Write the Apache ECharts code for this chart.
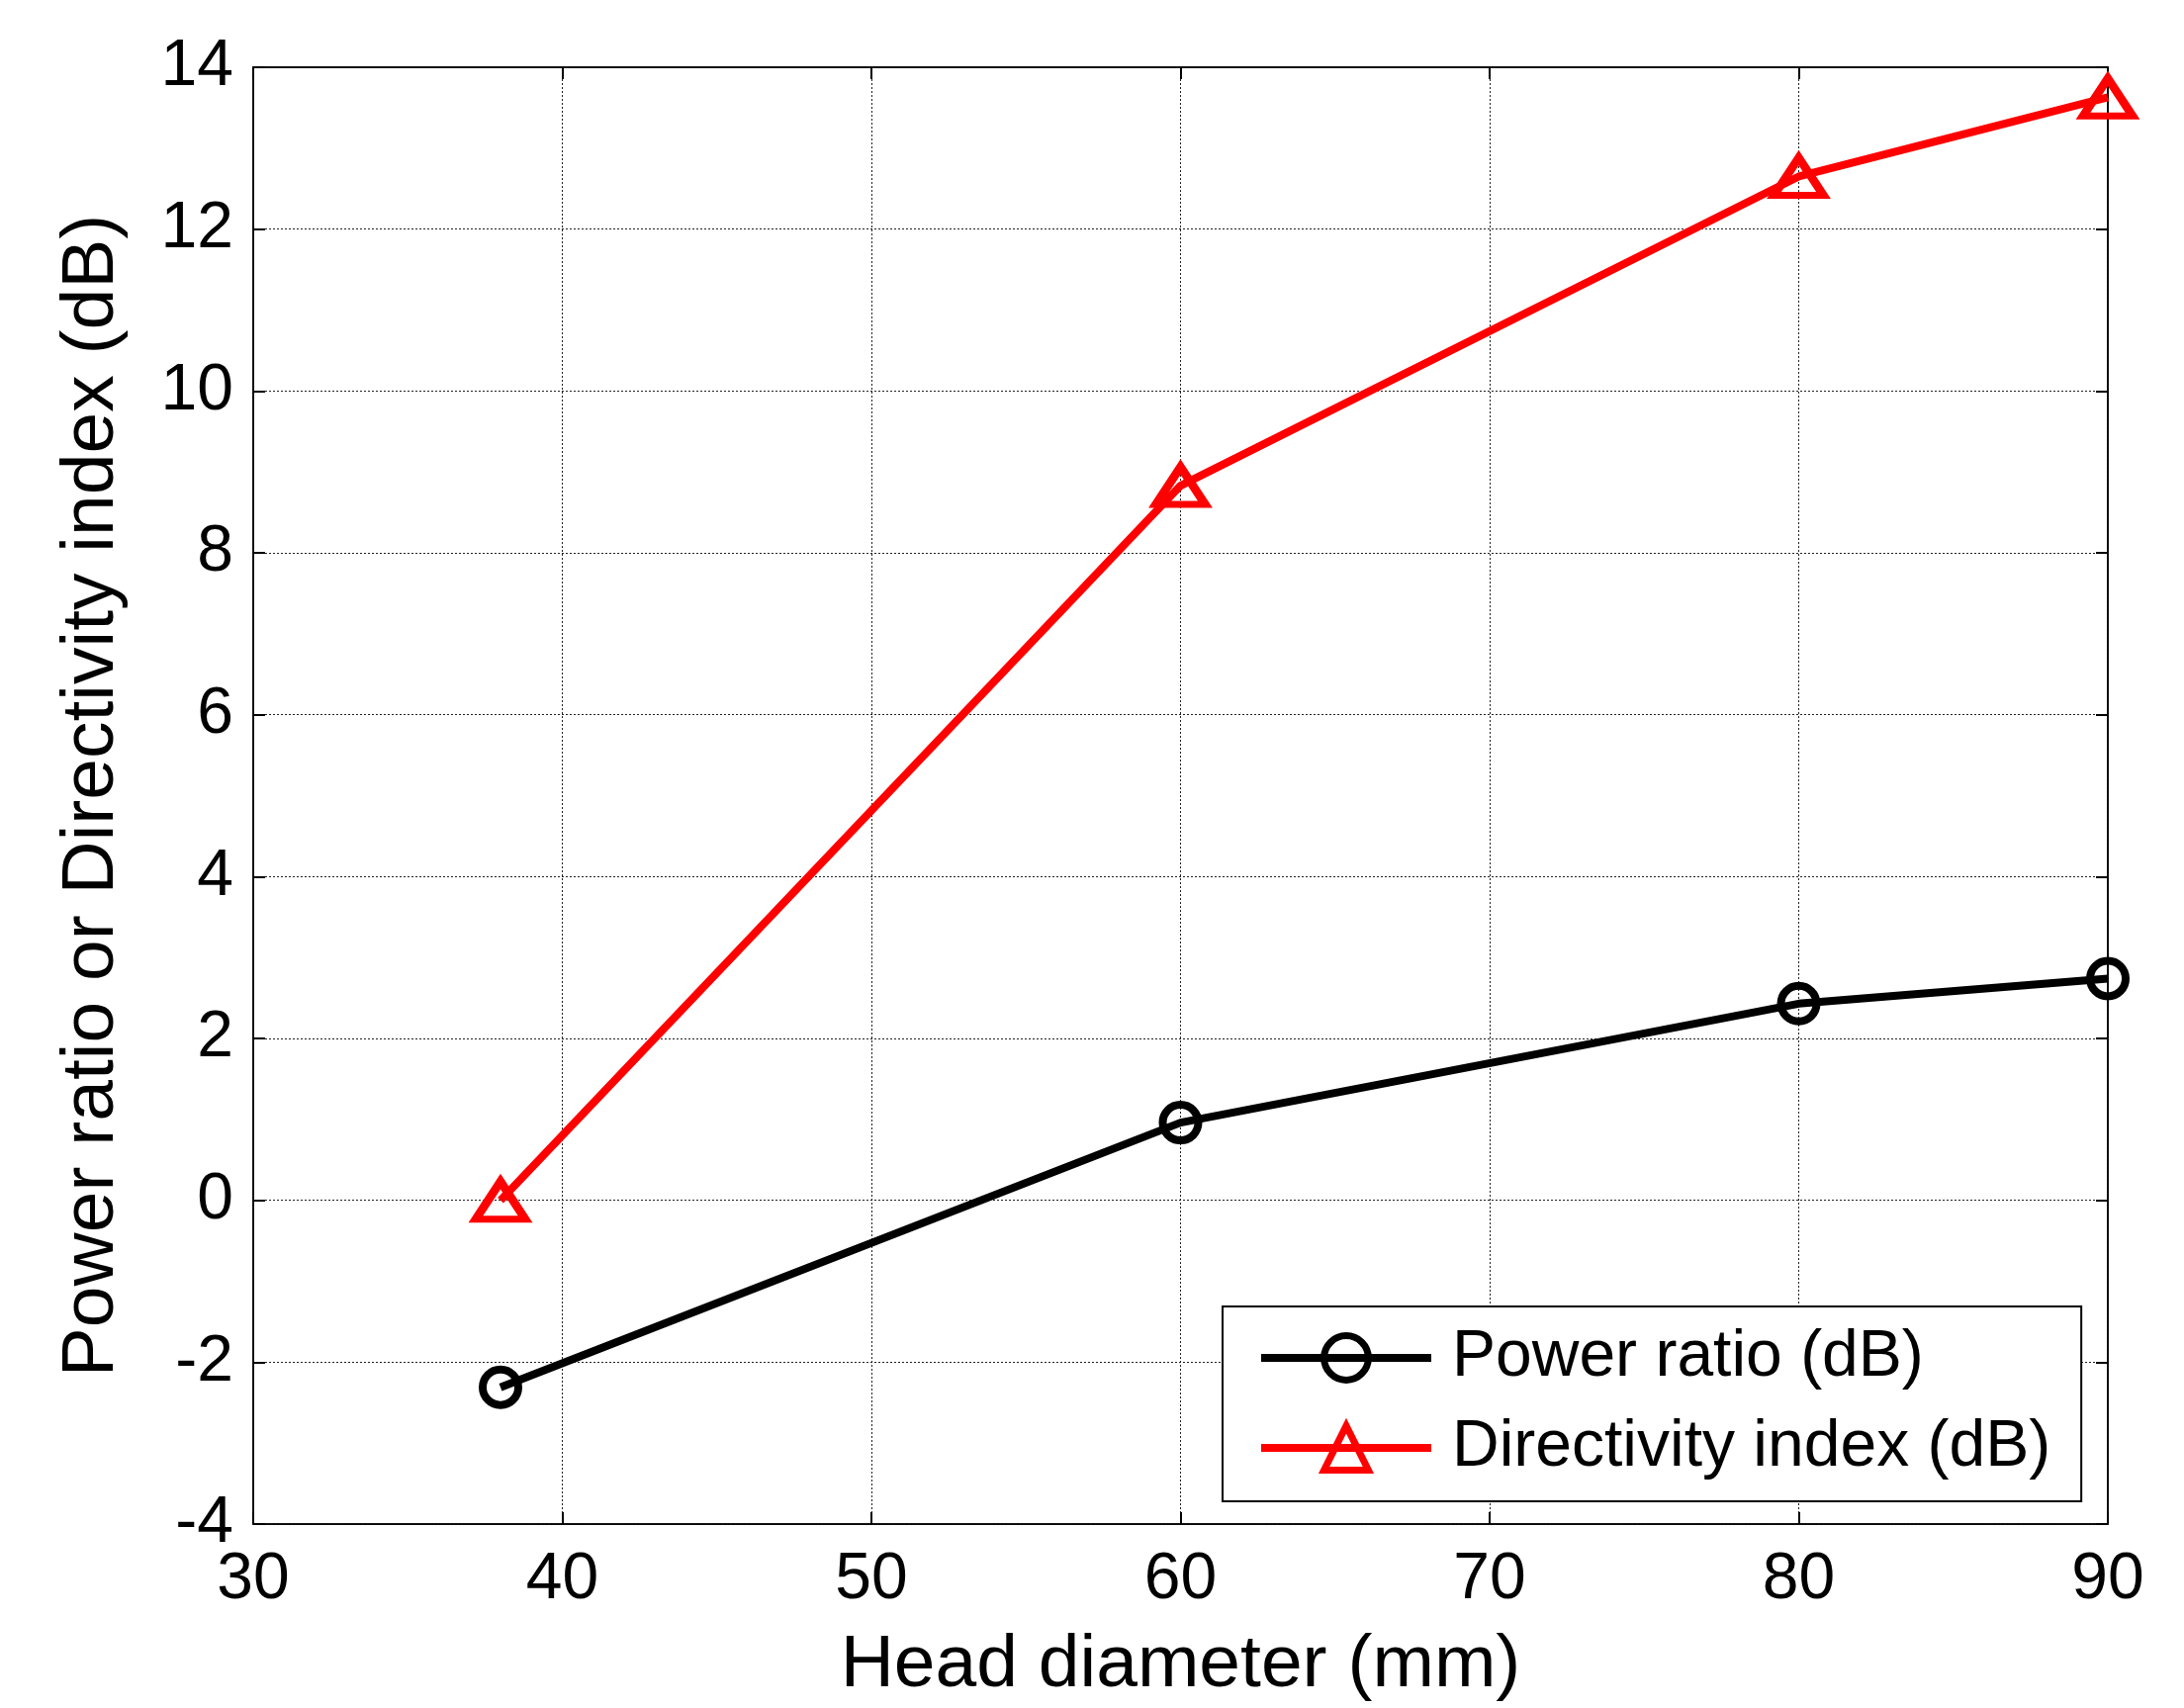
<!DOCTYPE html>
<html>
<head>
<meta charset="utf-8">
<script src="https://cdn.jsdelivr.net/npm/echarts@6/dist/echarts.min.js"></script>
<style>
html,body{margin:0;padding:0;background:#fff;}
#chart{width:2208px;height:1727px;}
</style>
</head>
<body>
<div id="chart"></div>
<script>
const headDiameter = [38, 60, 80, 90];
const powerRatio = [-2.31, 0.96, 2.43, 2.74];
const directivityIndex = [0.0, 8.83, 12.65, 13.63];
const seriesNames = ['Power ratio (dB)', 'Directivity index (dB)'];
const xTitle = 'Head diameter (mm)';
const yTitle = 'Power ratio or Directivity index (dB)';

const FONT = '"Liberation Sans", Arial, sans-serif';
const chart = echarts.init(document.getElementById('chart'));

function pairs(xs, ys) { return xs.map((x, i) => [x, ys[i]]); }

const tickCommon = { show: true, inside: true, length: 12, lineStyle: { color: '#000', width: 2 } };
const axisLineCommon = { show: true, onZero: false, lineStyle: { color: '#000', width: 1.5 } };

chart.setOption({
  animation: false,
  backgroundColor: '#fff',
  grid: { left: 256, top: 68, right: 77, bottom: 181, show: true, borderColor: '#000', borderWidth: 1.5, backgroundColor: 'transparent' },
  xAxis: [{
    type: 'value', min: 30, max: 90, interval: 10,
    name: xTitle, nameLocation: 'middle', nameGap: 106,
    nameTextStyle: { fontFamily: FONT, fontSize: 75, color: '#000' },
    axisLine: axisLineCommon,
    axisTick: tickCommon,
    axisLabel: { fontFamily: FONT, fontSize: 66, color: '#000', margin: 24 },
    splitLine: { show: true, lineStyle: { color: '#222', width: 1, type: [2, 2] } }
  }, {
    type: 'value', min: 30, max: 90, interval: 10, position: 'top',
    axisLine: axisLineCommon,
    axisTick: tickCommon, axisLabel: { show: false }, splitLine: { show: false }
  }],
  yAxis: [{
    type: 'value', min: -4, max: 14, interval: 2,
    name: yTitle, nameLocation: 'middle', nameGap: 125,
    nameTextStyle: { fontFamily: FONT, fontSize: 75, color: '#000' },
    axisLine: axisLineCommon,
    axisTick: tickCommon,
    axisLabel: { fontFamily: FONT, fontSize: 66, color: '#000', margin: 20 },
    splitLine: { show: true, lineStyle: { color: '#222', width: 1, type: [2, 2] } }
  }, {
    type: 'value', min: -4, max: 14, interval: 2, position: 'right',
    axisLine: axisLineCommon,
    axisTick: tickCommon, axisLabel: { show: false }, splitLine: { show: false }
  }],
  legend: {
    orient: 'vertical', left: 1236, top: 1321,
    padding: [19, 31, 21, 35],
    backgroundColor: '#fff', borderColor: '#000', borderWidth: 2,
    itemWidth: 172, itemHeight: 56, itemGap: 25,
    textStyle: { fontFamily: FONT, fontSize: 66, color: '#000', lineHeight: 66, padding: [0, 0, 0, 16] },
    data: [
      { name: seriesNames[0], lineStyle: { width: 8, color: '#000' }, itemStyle: { borderWidth: 7, borderColor: '#000', color: 'rgba(255,255,255,0)' } },
      { name: seriesNames[1], lineStyle: { width: 8, color: '#ff0000' }, itemStyle: { borderWidth: 7, borderColor: '#ff0000', color: 'rgba(255,255,255,0)' } }
    ]
  },
  series: [{
    name: seriesNames[0], type: 'line', data: pairs(headDiameter, powerRatio),
    symbol: 'circle', symbolSize: 36,
    lineStyle: { color: '#000', width: 8 },
    itemStyle: { color: 'rgba(255,255,255,0)', borderColor: '#000', borderWidth: 8 },
    z: 3
  }, {
    name: seriesNames[1], type: 'line', data: pairs(headDiameter, directivityIndex),
    symbol: 'triangle', symbolSize: [50, 38],
    lineStyle: { color: '#ff0000', width: 8 },
    itemStyle: { color: 'rgba(255,255,255,0)', borderColor: '#ff0000', borderWidth: 8 },
    z: 3
  }]
});
</script>
</body>
</html>
